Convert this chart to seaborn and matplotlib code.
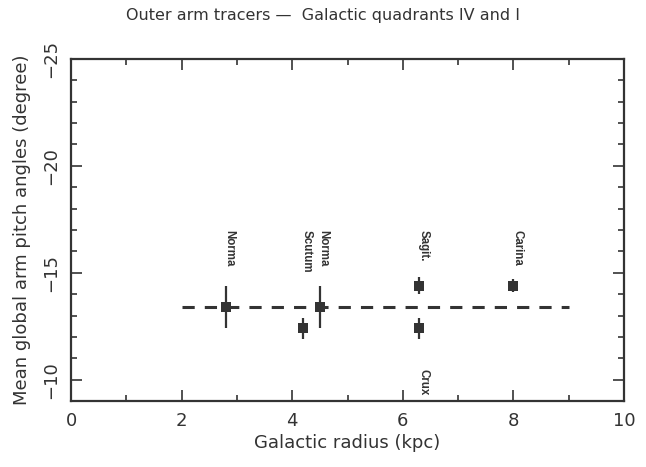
import matplotlib
matplotlib.use("Agg")
import matplotlib.pyplot as plt
import seaborn as sns
import pandas as pd
from matplotlib.ticker import MultipleLocator

# Data
arms = ["Norma", "Scutum", "Norma", "Sagit.", "Crux", "Carina"]
radius = [2.8, 4.2, 4.5, 6.3, 6.3, 8.0]
pitch = [-13.4, -12.4, -13.4, -14.4, -12.4, -14.4]
pitch_err = [1.0, 0.5, 1.0, 0.4, 0.5, 0.3]
label_y = [-17.0, -17.0, -17.0, -17.0, -10.5, -17.0]
label_x = [2.86, 4.26, 4.56, 6.37, 6.37, 8.07]
mean_x = [2.0, 9.0]
mean_pitch = [-13.4, -13.4]

df = pd.DataFrame({"radius": radius, "pitch": pitch, "err": pitch_err})

sns.set_theme(style="ticks")
plt.rcParams["font.family"] = ["DejaVu Sans"]

fig = plt.figure(figsize=(6.46, 4.67), dpi=100)
ax = fig.add_axes([0.110, 0.141, 0.856, 0.733])

ax.errorbar(df["radius"], df["pitch"], yerr=df["err"], fmt="none",
            ecolor="#333333", elinewidth=1.6, capsize=0, zorder=2)
sns.scatterplot(data=df, x="radius", y="pitch", marker="s", s=48,
                color="#333333", edgecolor="#333333", linewidth=0, ax=ax, zorder=3)
sns.lineplot(x=mean_x, y=mean_pitch, color="#333333", linewidth=2.2,
             ax=ax, zorder=1)
ax.lines[-1].set_linestyle((0, (4.0, 3.3)))

for lx, ly, name in zip(label_x, label_y, arms):
    ax.text(lx, ly, name, rotation=-90, ha="center", va="top",
            fontsize=8.3, fontweight="bold", family="Liberation Sans", color="#333333")

ax.set_xlim(0, 10)
ax.set_ylim(-9, -25)
ax.xaxis.set_major_locator(MultipleLocator(2))
ax.xaxis.set_minor_locator(MultipleLocator(1))
ax.yaxis.set_major_locator(MultipleLocator(5))
ax.yaxis.set_minor_locator(MultipleLocator(1))
ax.tick_params(which="both", direction="in", top=True, right=True,
               color="#333333", width=1.2)
ax.tick_params(which="major", length=8, labelsize=13, pad=8, labelcolor="#333333")
ax.tick_params(which="minor", length=4)
ax.tick_params(axis="y", which="major", labelrotation=90)
for lab in ax.get_yticklabels():
    lab.set_va("center")
for sp in ax.spines.values():
    sp.set_linewidth(1.6)
    sp.set_color("#333333")

ax.set_xlabel("Galactic radius (kpc)", fontsize=13, labelpad=3, color="#333333")
ax.set_ylabel("Mean global arm pitch angles (degree)", fontsize=13, labelpad=8, color="#333333")
fig.text(0.5, 0.966, "Outer arm tracers \u2014  Galactic quadrants IV and I",
         ha="center", va="center", fontsize=11.5, color="#333333")

fig.savefig("out.png", dpi=100)
